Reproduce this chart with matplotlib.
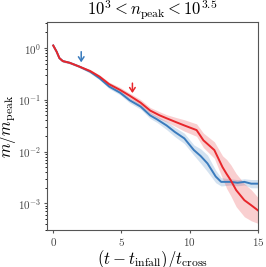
import numpy as np
import matplotlib
matplotlib.use("Agg")
from matplotlib import pyplot as plt

plt.rcParams['mathtext.fontset'] = 'cm'
plt.rcParams['font.family'] = 'serif'
plt.rcParams['font.serif'] = ['cmr10', 'DejaVu Serif']
plt.rcParams['axes.formatter.use_mathtext'] = True

# blue series
t_blue = [0, 0.25, 0.45, 0.7, 1.2, 1.9, 2.7, 3.4, 4.1, 4.9, 5.6, 6.4, 7.1, 7.6,
          8.3, 8.9, 9.6, 10.3, 10.8, 11.3, 11.9, 12.3, 13.0, 13.5, 14.0, 14.5, 15.0]
m_blue = [1.12, 0.85, 0.64, 0.56, 0.52, 0.44, 0.35, 0.26, 0.18, 0.137, 0.098, 0.074,
          0.050, 0.042, 0.032, 0.024, 0.018, 0.0107, 0.0082, 0.0059, 0.0033, 0.0026,
          0.0026, 0.0025, 0.0026, 0.0024, 0.0024]
# band half-width in dex
w_blue = [0.02, 0.02, 0.02, 0.02, 0.02, 0.02, 0.03, 0.03, 0.04, 0.04, 0.05, 0.05,
          0.06, 0.06, 0.08, 0.09, 0.1, 0.1, 0.14, 0.16, 0.12, 0.08, 0.06, 0.06,
          0.06, 0.08, 0.08]

# red series
t_red = [0, 0.25, 0.45, 0.7, 1.2, 1.9, 2.7, 3.4, 4.1, 4.9, 5.6, 6.4, 7.1, 7.8,
         8.3, 9.0, 9.6, 10.5, 11.0, 11.8, 12.4, 12.7, 13.0, 13.4, 14.0, 14.5, 15.0]
m_red = [1.12, 0.85, 0.64, 0.56, 0.52, 0.44, 0.36, 0.28, 0.2, 0.155, 0.12, 0.088,
         0.062, 0.050, 0.044, 0.037, 0.032, 0.026, 0.0165, 0.0107, 0.0050, 0.0037,
         0.0028, 0.0018, 0.00115, 0.00092, 0.00073]
w_red = [0.02, 0.02, 0.02, 0.02, 0.02, 0.02, 0.03, 0.03, 0.04, 0.05, 0.05, 0.06,
         0.06, 0.07, 0.07, 0.09, 0.11, 0.12, 0.14, 0.16, 0.22, 0.28, 0.3, 0.32,
         0.32, 0.3, 0.25]

# arrow markers (x position, head, tail)
arrow_blue = (2.05, 0.53, 0.85)
arrow_red = (5.8, 0.135, 0.21)

blue = '#3a7bbd'
red = '#e8262b'

fig = plt.figure(figsize=(2.66, 2.67), dpi=100)
ax = fig.add_axes([0.177, 0.137, 0.793, 0.781])

for t, m, w, c in [(t_blue, m_blue, w_blue, blue), (t_red, m_red, w_red, red)]:
    m = np.array(m)
    w = np.array(w)
    ax.fill_between(t, m * 10**(-w), m * 10**w, color=c, alpha=0.22, lw=0)
    ax.plot(t, m, color=c, lw=1.4)

for (x, head, tail), c in [(arrow_blue, blue), (arrow_red, red)]:
    ax.annotate('', xy=(x, head), xytext=(x, tail),
                arrowprops=dict(arrowstyle='->,head_width=0.2,head_length=0.3',
                                color=c, lw=1.1, shrinkA=0, shrinkB=0))

ax.set_yscale('log')
ax.set_xlim(-0.45, 15)
ax.set_ylim(3e-4, 3.2)
ax.set_xticks([0, 5, 10, 15])

for s in ax.spines.values():
    s.set_color('#555555')
ax.tick_params(colors='#555555', labelsize=8, labelcolor='#444444',
               length=2.5, pad=1.5)
ax.tick_params(which='minor', length=1.5)

ax.set_title(r'$10^3 < n_{\rm peak} < 10^{3.5}$', fontsize=12, pad=0.5)
ax.set_xlabel(r'$(t - t_{\rm infall})/t_{\rm cross}$', fontsize=12, labelpad=0)
ax.set_ylabel(r'$m/m_{\rm peak}$', fontsize=12, labelpad=0)

fig.savefig('out.png', dpi=100)
